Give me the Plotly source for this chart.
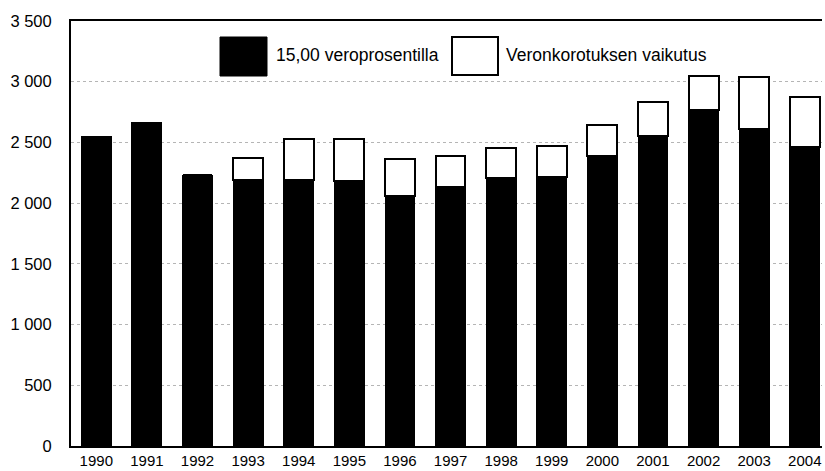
import plotly.graph_objects as go

years = [1990, 1991, 1992, 1993, 1994, 1995, 1996, 1997, 1998, 1999, 2000, 2001, 2002, 2003, 2004]
base_15 = [2547, 2663, 2229, 2188, 2193, 2182, 2056, 2130, 2204, 2215, 2391, 2555, 2767, 2608, 2462]
increase = [0, 0, 0, 186, 335, 346, 310, 261, 248, 258, 255, 280, 280, 428, 412]
year_labels = [str(y) for y in years]
y_ticks = [0, 500, 1000, 1500, 2000, 2500, 3000, 3500]
legend_names = ["15,00 veroprosentilla", "Veronkorotuksen vaikutus"]

fam = "Liberation Sans, Arial, sans-serif"
xfont = dict(family=fam, size=15, color="black")
yfont = dict(family=fam, size=16.5, color="black")
lfont = dict(family=fam, size=17.5, color="black")

fig = go.Figure()
fig.add_trace(go.Bar(x=years, y=base_15, name=legend_names[0], width=0.59,
                     marker=dict(color="black", line=dict(color="black", width=1))))
fig.add_trace(go.Bar(x=years, y=increase, name=legend_names[1], width=0.59,
                     marker=dict(color="white", line=dict(color="black", width=2))))

fig.update_layout(
    barmode="stack",
    width=825, height=471,
    margin=dict(l=71, r=3, t=21, b=25),
    paper_bgcolor="white", plot_bgcolor="white",
    showlegend=False,
    separators=", ",
    font=xfont,
)
fig.update_xaxes(range=[1989.5, 2004.34], tickvals=years, ticktext=year_labels,
                 showgrid=False, showline=True, linecolor="black", linewidth=2,
                 mirror=True, ticks="", tickfont=xfont, zeroline=False)
fig.update_yaxes(range=[0, 3500], tickvals=y_ticks, tickformat=",.0f",
                 showgrid=True, gridcolor="#b5b5b5", griddash="dot", gridwidth=1,
                 showline=True, linecolor="black", linewidth=2,
                 ticks="", ticklabelstandoff=14, tickfont=yfont,
                 zeroline=False)

# Legend drawn as large swatches (paper coordinates)
def px_x(p):
    return (p - 71) / (825 - 71 - 3)

def px_y(p):
    return 1 - (p - 21) / (471 - 21 - 25)

fig.add_shape(type="rect", xref="paper", yref="paper",
              x0=px_x(220), x1=px_x(267), y0=px_y(76), y1=px_y(37),
              fillcolor="black", line=dict(color="black", width=1))
fig.add_shape(type="rect", xref="paper", yref="paper",
              x0=px_x(452), x1=px_x(498), y0=px_y(75), y1=px_y(37),
              fillcolor="white", line=dict(color="black", width=2))
fig.add_annotation(xref="paper", yref="paper", x=px_x(274), y=px_y(55),
                   text=legend_names[0], showarrow=False, xanchor="left",
                   yanchor="middle", font=lfont)
fig.add_annotation(xref="paper", yref="paper", x=px_x(504), y=px_y(55),
                   text=legend_names[1], showarrow=False, xanchor="left",
                   yanchor="middle", font=lfont)

fig.write_html("out.html", config={"displayModeBar": False},
               post_script="document.body.style.margin='0';")
